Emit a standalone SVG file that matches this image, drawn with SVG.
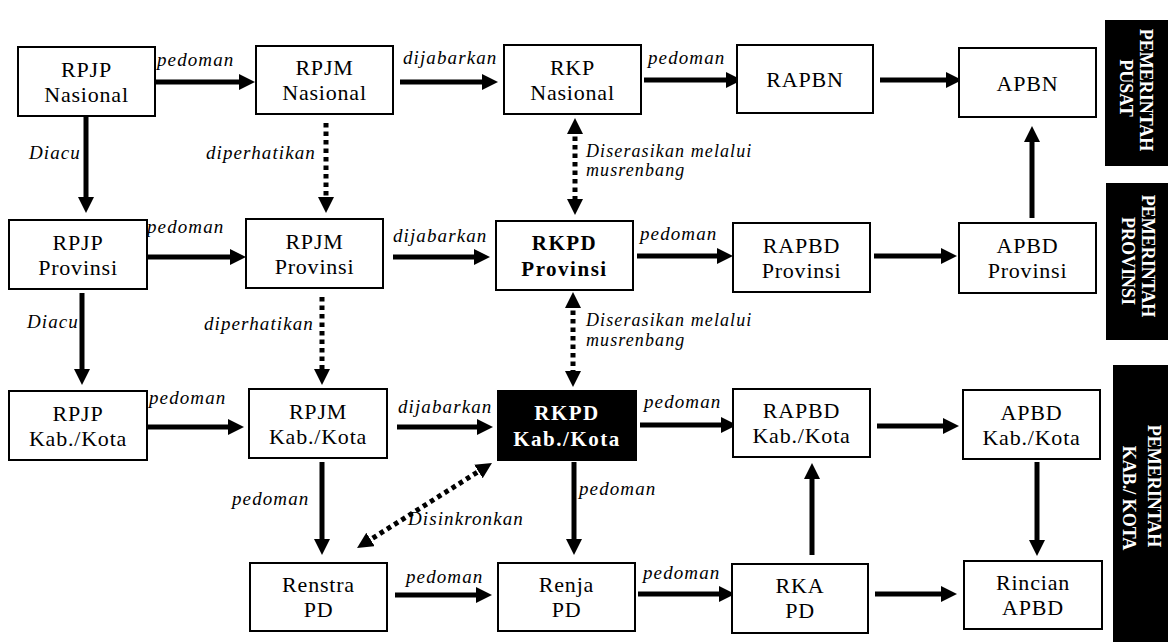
<svg xmlns="http://www.w3.org/2000/svg" width="1168" height="642" viewBox="0 0 1168 642">
<defs>
<style>
.box{fill:#fff;stroke:#000;stroke-width:2}
.dark{fill:#000;stroke:#000;stroke-width:2}
.t{font-family:"Liberation Serif","Times New Roman",serif;font-size:22px;letter-spacing:0.8px;text-anchor:middle;fill:#000}
.b{font-weight:bold;font-size:21px;letter-spacing:1.5px}
.w{fill:#fff}
.lbl{font-family:"Liberation Serif","Times New Roman",serif;font-style:italic;font-size:19px;letter-spacing:1.1px;fill:#000}
.sm{font-size:18px}
.side{font-family:"Liberation Serif","Times New Roman",serif;font-weight:bold;font-size:18px;fill:#fff;text-anchor:middle}
.arr{stroke:#000;stroke-width:5;fill:none;marker-end:url(#ah)}
.dot{stroke:#000;stroke-width:5;fill:none;stroke-dasharray:4.5 4;marker-end:url(#ah2)}
.dbl{marker-start:url(#ah2)}
</style>
<marker id="ah" viewBox="0 0 16 16" markerWidth="16" markerHeight="16" markerUnits="userSpaceOnUse" refX="6" refY="8" orient="auto"><path d="M0,0 L16,8 L0,16 z" fill="#000"/></marker>
<marker id="ah2" viewBox="0 0 16 16" markerWidth="16" markerHeight="16" markerUnits="userSpaceOnUse" refX="6" refY="8" orient="auto-start-reverse"><path d="M0,0 L16,8 L0,16 z" fill="#000"/></marker>
</defs>
<rect width="1168" height="642" fill="#fff"/>

<g id="connectors">
<line class="arr" x1="156" y1="82" x2="245" y2="82"/>
<line class="arr" x1="400" y1="82" x2="488" y2="82"/>
<line class="arr" x1="644" y1="80" x2="732" y2="80"/>
<line class="arr" x1="880" y1="80" x2="952" y2="80"/>
<line class="arr" x1="1032" y1="218" x2="1032" y2="136"/>
<line class="arr" x1="86" y1="117" x2="86" y2="203"/>
<line class="dot" x1="326" y1="123" x2="326" y2="203"/>
<line class="dot dbl" x1="575" y1="128" x2="575" y2="205"/>

<line class="arr" x1="148" y1="257" x2="236" y2="257"/>
<line class="arr" x1="393" y1="257" x2="480" y2="257"/>
<line class="arr" x1="637" y1="256" x2="723" y2="256"/>
<line class="arr" x1="874" y1="256" x2="947" y2="256"/>
<line class="arr" x1="82" y1="293" x2="82" y2="375"/>
<line class="dot" x1="322" y1="297" x2="322" y2="375"/>
<line class="dot dbl" x1="573" y1="302" x2="573" y2="377"/>

<line class="arr" x1="147" y1="427" x2="234" y2="427"/>
<line class="arr" x1="397" y1="427" x2="483" y2="427"/>
<line class="arr" x1="640" y1="425" x2="727" y2="425"/>
<line class="arr" x1="877" y1="426" x2="949" y2="426"/>
<line class="arr" x1="1037" y1="462" x2="1037" y2="546"/>
<line class="arr" x1="322" y1="462" x2="322" y2="545"/>
<line class="arr" x1="574" y1="462" x2="574" y2="545"/>
<line class="dot dbl" x1="365.5" y1="542.7" x2="483.5" y2="468.3"/>
<line class="arr" x1="812" y1="555" x2="812" y2="473"/>

<line class="arr" x1="395" y1="595" x2="482" y2="595"/>
<line class="arr" x1="638" y1="594" x2="725" y2="594"/>
<line class="arr" x1="875" y1="594" x2="947" y2="594"/>

<text class="lbl" x="157" y="66">pedoman</text>
<text class="lbl" x="403" y="64">dijabarkan</text>
<text class="lbl" x="648" y="64">pedoman</text>
<text class="lbl" x="29" y="159">Diacu</text>
<text class="lbl" x="206" y="159">diperhatikan</text>
<text class="lbl sm" x="586" y="157">Diserasikan melalui</text>
<text class="lbl sm" x="586" y="176">musrenbang</text>

<text class="lbl" x="147" y="233">pedoman</text>
<text class="lbl" x="393" y="242">dijabarkan</text>
<text class="lbl" x="640" y="240">pedoman</text>
<text class="lbl" x="27" y="328">Diacu</text>
<text class="lbl" x="204" y="330">diperhatikan</text>
<text class="lbl sm" x="586" y="326">Diserasikan melalui</text>
<text class="lbl sm" x="586" y="346">musrenbang</text>

<text class="lbl" x="149" y="404">pedoman</text>
<text class="lbl" x="398" y="413">dijabarkan</text>
<text class="lbl" x="644" y="408">pedoman</text>
<text class="lbl" x="232" y="505">pedoman</text>
<text class="lbl" x="579" y="495">pedoman</text>
<text class="lbl" x="408" y="525">Disinkronkan</text>

<text class="lbl" x="406" y="583">pedoman</text>
<text class="lbl" x="643" y="579">pedoman</text>
</g>

<g id="n1"><rect class="box" x="18" y="47" width="137" height="69"/><text class="t" x="86.5" y="77">RPJP</text><text class="t" x="86.5" y="102">Nasional</text></g>
<g id="n2"><rect class="box" x="256" y="46" width="137" height="68"/><text class="t" x="324.5" y="75">RPJM</text><text class="t" x="324.5" y="100">Nasional</text></g>
<g id="n3"><rect class="box" x="504" y="45" width="137" height="69"/><text class="t" x="572.5" y="75">RKP</text><text class="t" x="572.5" y="100">Nasional</text></g>
<g id="n4"><rect class="box" x="737" y="45" width="136" height="68"/><text class="t" x="805" y="87">RAPBN</text></g>
<g id="n5"><rect class="box" x="959" y="48" width="137" height="69"/><text class="t" x="1027.5" y="91">APBN</text></g>

<g id="n6"><rect class="box" x="9" y="220" width="138" height="69"/><text class="t" x="78" y="250">RPJP</text><text class="t" x="78" y="275">Provinsi</text></g>
<g id="n7"><rect class="box" x="246" y="219" width="137" height="69"/><text class="t" x="314.5" y="249">RPJM</text><text class="t" x="314.5" y="274">Provinsi</text></g>
<g id="n8"><rect class="box" x="496" y="221" width="137" height="69"/><text class="t b" x="564.5" y="250">RKPD</text><text class="t b" x="564.5" y="276">Provinsi</text></g>
<g id="n9"><rect class="box" x="733" y="223" width="137" height="69"/><text class="t" x="801.5" y="253">RAPBD</text><text class="t" x="801.5" y="278">Provinsi</text></g>
<g id="n10"><rect class="box" x="959" y="223" width="137" height="70"/><text class="t" x="1027.5" y="253">APBD</text><text class="t" x="1027.5" y="278">Provinsi</text></g>

<g id="n11"><rect class="box" x="9" y="391" width="138" height="69"/><text class="t" x="78" y="421">RPJP</text><text class="t" x="78" y="446">Kab./Kota</text></g>
<g id="n12"><rect class="box" x="249" y="389" width="138" height="69"/><text class="t" x="318" y="419">RPJM</text><text class="t" x="318" y="444">Kab./Kota</text></g>
<g id="n13"><rect class="dark" x="498" y="391" width="138" height="69"/><text class="t b w" x="567" y="420">RKPD</text><text class="t b w" x="567" y="446">Kab./Kota</text></g>
<g id="n14"><rect class="box" x="733" y="389" width="137" height="68"/><text class="t" x="801.5" y="418">RAPBD</text><text class="t" x="801.5" y="443">Kab./Kota</text></g>
<g id="n15"><rect class="box" x="963" y="390" width="137" height="69"/><text class="t" x="1031.5" y="420">APBD</text><text class="t" x="1031.5" y="445">Kab./Kota</text></g>

<g id="n16"><rect class="box" x="250" y="563" width="137" height="68"/><text class="t" x="318.5" y="592">Renstra</text><text class="t" x="318.5" y="617">PD</text></g>
<g id="n17"><rect class="box" x="498" y="563" width="137" height="68"/><text class="t" x="566.5" y="592">Renja</text><text class="t" x="566.5" y="617">PD</text></g>
<g id="n18"><rect class="box" x="732" y="564" width="136" height="69"/><text class="t" x="800" y="593">RKA</text><text class="t" x="800" y="618">PD</text></g>
<g id="n19"><rect class="box" x="964" y="561" width="138" height="68"/><text class="t" x="1033" y="590">Rincian</text><text class="t" x="1033" y="615">APBD</text></g>

<g id="side-pusat"><rect x="1105" y="20" width="63" height="146" fill="#000"/><text class="side" transform="translate(1140,90) rotate(90)">PEMERINTAH</text><text class="side" transform="translate(1120,88) rotate(90)">PUSAT</text></g>
<g id="side-provinsi"><rect x="1106" y="183" width="62" height="157" fill="#000"/><text class="side" transform="translate(1142,256) rotate(90)">PEMERINTAH</text><text class="side" transform="translate(1122,261) rotate(90)">PROVINSI</text></g>
<g id="side-kab"><rect x="1113" y="365" width="55" height="277" fill="#000"/><text class="side" transform="translate(1148,486) rotate(90)">PEMERINTAH</text><text class="side" transform="translate(1123,498) rotate(90)">KAB./ KOTA</text></g>
</svg>
